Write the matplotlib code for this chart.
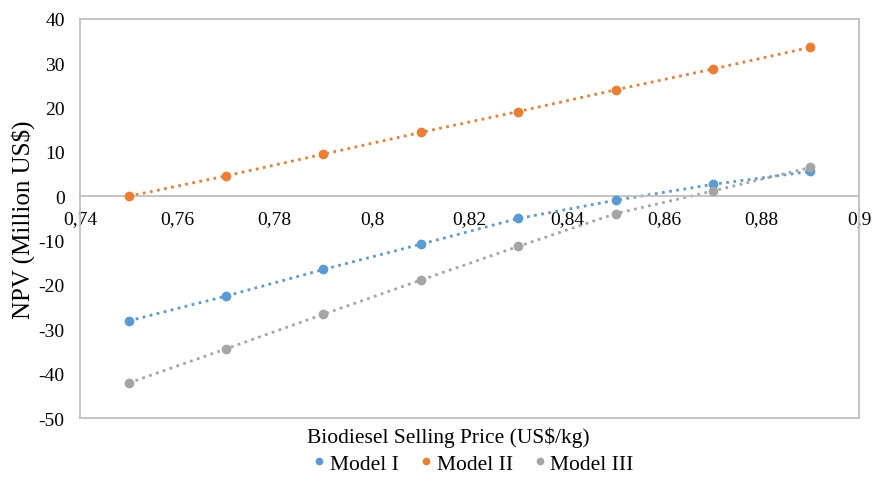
import numpy as np
import matplotlib
matplotlib.use("Agg")
import matplotlib.pyplot as plt
from matplotlib.lines import Line2D

# === данные ===
price = [0.75, 0.77, 0.79, 0.81, 0.83, 0.85, 0.87, 0.89]
model1 = [-28.1, -22.5, -16.5, -10.8, -5.0, -0.9, 2.7, 5.6]
model2 = [0.0, 4.6, 9.5, 14.4, 19.1, 24.0, 28.7, 33.6]
model3 = [-42.1, -34.4, -26.6, -18.9, -11.3, -3.9, 1.2, 6.5]
names = ["Model I", "Model II", "Model III"]
colors = ["#5B9BD5", "#ED7D31", "#A5A5A5"]
xticks = [0.74, 0.76, 0.78, 0.80, 0.82, 0.84, 0.86, 0.88, 0.90]
xticklabels = ["0,74", "0,76", "0,78", "0,8", "0,82", "0,84", "0,86", "0,88", "0,9"]
yticks = list(range(-50, 41, 10))

plt.rcParams["font.family"] = ["Liberation Serif", "DejaVu Serif"]
plt.rcParams["axes.unicode_minus"] = False
GRAY = "#BFBFBF"

fig = plt.figure(figsize=(8.74, 4.85), dpi=100)
ax = fig.add_axes([0.0915, 0.136, 0.8915, 0.823])

for ys, c in zip([model1, model2, model3], colors):
    ax.plot(price, ys, ls=(0, (1, 1.6)), lw=2, color=c, zorder=2)
    ax.plot(price, ys, "o", ms=6, color=c, zorder=3)

ax.set_xlim(0.74, 0.90)
ax.set_ylim(-50, 40)
ax.set_xticks(xticks)
ax.set_xticklabels(xticklabels)
ax.set_yticks(yticks)
ax.tick_params(length=0, labelsize=14, colors="#000000")
ax.tick_params(axis="x", pad=10)
ax.tick_params(axis="y", pad=11)

for s in ax.spines.values():
    s.set_color(GRAY)
    s.set_linewidth(1.3)
ax.spines["bottom"].set_position(("data", 0))
ax.axhline(-50, color=GRAY, lw=1.3, clip_on=False)

fig.text(0.513, 0.097, "Biodiesel Selling Price (US$/kg)", ha="center", va="center", fontsize=15.5)
fig.text(0.026, 0.546, "NPV (Million US$)", ha="center", va="center", rotation=90, fontsize=18)

handles = [Line2D([], [], ls="none", marker="o", ms=4.5, color=c) for c in colors]
fig.legend(handles, names, loc="center", bbox_to_anchor=(0.539, 0.042), ncol=3,
           frameon=False, fontsize=15.5, handletextpad=0.0, columnspacing=0.75, handlelength=1)

fig.savefig("out.png", dpi=100)
